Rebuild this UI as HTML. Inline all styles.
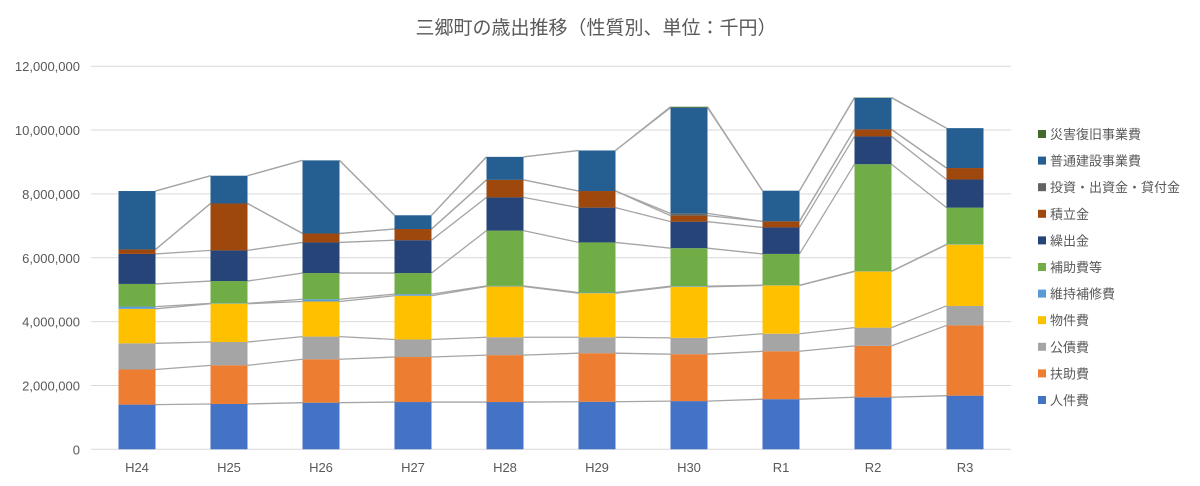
<!DOCTYPE html>
<html><head><meta charset="utf-8">
<style>
html,body{margin:0;padding:0;background:#fff;}
svg{display:block;font-family:"Liberation Sans","Noto Sans CJK JP",sans-serif;}
</style></head>
<body>
<svg id="chart" width="1200" height="486" viewBox="0 0 1200 486" xmlns="http://www.w3.org/2000/svg">
<text x="596" y="34" text-anchor="middle" font-size="19" fill="#595959">三郷町の歳出推移（性質別、単位：千円）</text>
<g id="grid"></g><g id="lines"></g><g id="bars"></g><g id="axes"></g><g id="legend"></g>
</svg>
<script>
const categories = ["H24","H25","H26","H27","H28","H29","H30","R1","R2","R3"];
const seriesNames = ["人件費","扶助費","公債費","物件費","維持補修費","補助費等","繰出金","積立金","投資・出資金・貸付金","普通建設事業費","災害復旧事業費"];
const s人件費 = [1400000,1420000,1460000,1480000,1480000,1490000,1510000,1570000,1630000,1680000];
const s扶助費 = [1100000,1210000,1360000,1410000,1470000,1520000,1470000,1500000,1610000,2200000];
const s公債費 = [820000,730000,710000,550000,560000,500000,510000,550000,570000,610000];
const s物件費 = [1080000,1200000,1100000,1370000,1590000,1380000,1600000,1510000,1760000,1920000];
const s維持補修費 = [70000,10000,70000,50000,20000,20000,20000,10000,10000,10000];
const s補助費等 = [710000,700000,820000,660000,1730000,1570000,1190000,980000,3350000,1150000];
const s繰出金 = [940000,960000,960000,1030000,1040000,1090000,830000,830000,870000,880000];
const s積立金 = [140000,1470000,280000,350000,550000,520000,190000,190000,220000,360000];
const s投資 = [0,0,0,0,0,0,70000,0,0,0];
const s普通建設 = [1830000,870000,2290000,430000,720000,1270000,3310000,960000,990000,1250000];
const s災害復旧 = [0,0,0,0,0,0,30000,0,10000,0];
const yTicks = [0,2000000,4000000,6000000,8000000,10000000,12000000];
const yTickLabels = ["0","2,000,000","4,000,000","6,000,000","8,000,000","10,000,000","12,000,000"];
const seriesValues = [s人件費,s扶助費,s公債費,s物件費,s維持補修費,s補助費等,s繰出金,s積立金,s投資,s普通建設,s災害復旧];
const colors = ["#4472C4","#ED7D31","#A5A5A5","#FFC000","#5B9BD5","#70AD47","#264478","#9E480E","#636363","#255E91","#43682B"];
const seriesKeys = ["personnel","assistance","debt","goods","maintenance","subsidy","transfer","reserve","investment","construction","disaster"];

const NS="http://www.w3.org/2000/svg";
const left=91,right=1011,y0=449.3,yMax=12000000,yTop=66.2;
const band=(right-left)/categories.length, barW=37;
const y=v=>y0-(v/yMax)*(y0-yTop);
const xc=i=>left+band*(i+0.5);
function mk(tag,attrs,parent){const e=document.createElementNS(NS,tag);for(const k in attrs)e.setAttribute(k,attrs[k]);parent.appendChild(e);return e;}
const grid=document.getElementById('grid'),axes=document.getElementById('axes'),bars=document.getElementById('bars'),lines=document.getElementById('lines'),legend=document.getElementById('legend');
yTicks.forEach((t,i)=>{
  const l=mk('line',{x1:left,x2:right,y1:y(t),y2:y(t),stroke:"#D9D9D9","stroke-width":1},grid);
  
  
  const tx=mk('text',{x:80,y:y(t)+5,"text-anchor":"end","font-size":13,fill:"#595959"},axes);
  tx.textContent=yTickLabels[i];
  
  
});
categories.forEach((c,i)=>{
  const tx=mk('text',{x:xc(i),y:472,"text-anchor":"middle","font-size":13,fill:"#595959"},axes);
  tx.textContent=c;
  
  
});
const cum=categories.map(()=>0);
const tops=[];
seriesValues.forEach((arr,s)=>{
  const tp=[];
  arr.forEach((v,i)=>{
    const b=cum[i];cum[i]+=v;tp.push(cum[i]);
    if(v<=0)return;
    const r=mk('rect',{x:xc(i)-barW/2,y:y(cum[i]),width:barW,height:y(b)-y(cum[i]),fill:colors[s]},bars);
    
    
  });
  tops.push(tp);
});
tops.forEach((tp,s)=>{
  for(let i=0;i<tp.length-1;i++){
    const l=mk('line',{x1:xc(i)+barW/2,y1:y(tp[i]),x2:xc(i+1)-barW/2,y2:y(tp[i+1]),stroke:"#A5A5A5","stroke-width":1.3},lines);
    
    
  }
});
for(let s=seriesNames.length-1;s>=0;s--){
  const k=seriesNames.length-1-s;
  const yy=134+k*26.6;
  const g=mk('g',{},legend);
  
  
  mk('rect',{x:1038,y:yy-4,width:8,height:8,fill:colors[s]},g);
  const t=mk('text',{x:1050,y:yy+5,"font-size":13,fill:"#595959"},g);
  t.textContent=seriesNames[s];
}
</script>
</body></html>
